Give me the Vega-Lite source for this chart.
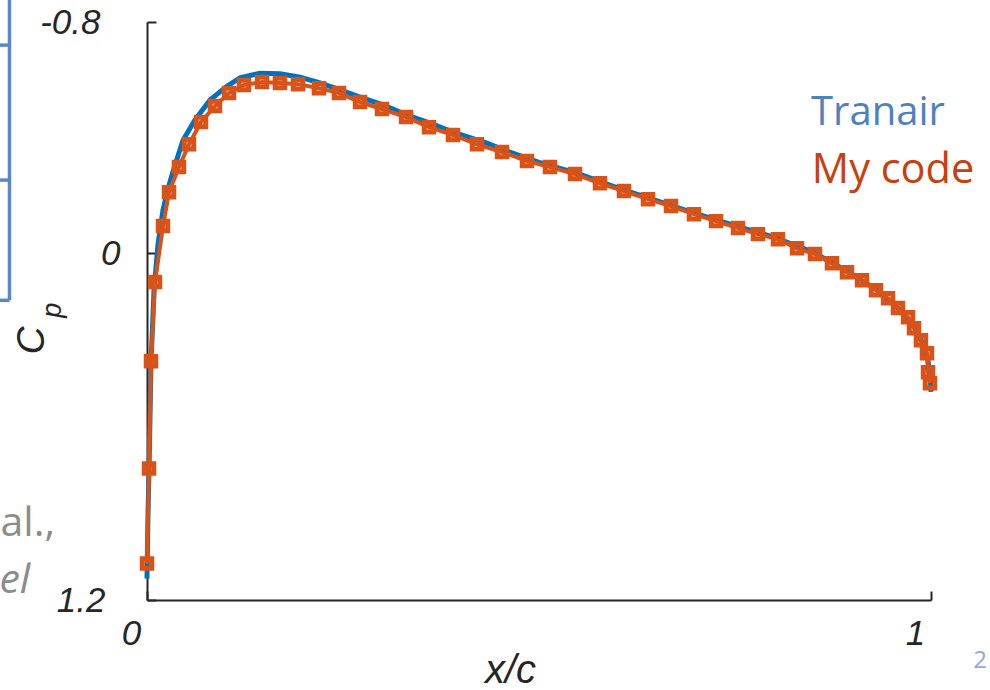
{
  "$schema": "https://vega.github.io/schema/vega-lite/v6.json",
  "width": 784,
  "height": 578,
  "autosize": {"type": "none"},
  "padding": {"left": 147, "top": 22, "right": 59, "bottom": 90},
  "background": "white",
  "config": {"view": {"stroke": null}, "axis": {"grid": false}},
  "datasets": {
    "tranair": [
      {"x": 0.0, "y": 1.126}, {"x": 0.0013, "y": 0.9}, {"x": 0.0026, "y": 0.75},
      {"x": 0.0051, "y": 0.38}, {"x": 0.0089, "y": 0.13}, {"x": 0.014, "y": -0.03},
      {"x": 0.0204, "y": -0.15}, {"x": 0.027, "y": -0.225}, {"x": 0.0332, "y": -0.283},
      {"x": 0.0459, "y": -0.391}, {"x": 0.0612, "y": -0.461}, {"x": 0.0804, "y": -0.53},
      {"x": 0.102, "y": -0.578}, {"x": 0.1186, "y": -0.607}, {"x": 0.1441, "y": -0.623},
      {"x": 0.1696, "y": -0.621}, {"x": 0.1952, "y": -0.609}, {"x": 0.2207, "y": -0.589},
      {"x": 0.2462, "y": -0.565}, {"x": 0.2717, "y": -0.54}, {"x": 0.301, "y": -0.513},
      {"x": 0.3316, "y": -0.478}, {"x": 0.361, "y": -0.45}, {"x": 0.3903, "y": -0.419},
      {"x": 0.4337, "y": -0.381}, {"x": 0.46, "y": -0.352}, {"x": 0.5, "y": -0.314},
      {"x": 0.55, "y": -0.275}, {"x": 0.6, "y": -0.226}, {"x": 0.65, "y": -0.182},
      {"x": 0.7, "y": -0.137}, {"x": 0.75, "y": -0.095}, {"x": 0.8, "y": -0.055},
      {"x": 0.85, "y": -0.003}, {"x": 0.89, "y": 0.058}, {"x": 0.93, "y": 0.125},
      {"x": 0.96, "y": 0.195}, {"x": 0.98, "y": 0.262}, {"x": 0.99, "y": 0.315},
      {"x": 0.996, "y": 0.37}, {"x": 0.999, "y": 0.43}, {"x": 1.0, "y": 0.48}
    ],
    "mycode": [
      {"x": 0.0, "y": 1.074}, {"x": 0.0026, "y": 0.745}, {"x": 0.0051, "y": 0.374},
      {"x": 0.0102, "y": 0.1}, {"x": 0.0204, "y": -0.094}, {"x": 0.0281, "y": -0.211},
      {"x": 0.0408, "y": -0.298}, {"x": 0.0536, "y": -0.377}, {"x": 0.0689, "y": -0.454},
      {"x": 0.0867, "y": -0.509}, {"x": 0.1046, "y": -0.554}, {"x": 0.1237, "y": -0.582},
      {"x": 0.1467, "y": -0.592}, {"x": 0.1696, "y": -0.589}, {"x": 0.1926, "y": -0.585},
      {"x": 0.2194, "y": -0.571}, {"x": 0.2449, "y": -0.554}, {"x": 0.2717, "y": -0.523},
      {"x": 0.2997, "y": -0.499}, {"x": 0.3304, "y": -0.471}, {"x": 0.3597, "y": -0.436},
      {"x": 0.3903, "y": -0.409}, {"x": 0.4209, "y": -0.377}, {"x": 0.4528, "y": -0.35},
      {"x": 0.4847, "y": -0.319}, {"x": 0.514, "y": -0.298}, {"x": 0.5459, "y": -0.274},
      {"x": 0.5778, "y": -0.242}, {"x": 0.6084, "y": -0.215}, {"x": 0.639, "y": -0.187},
      {"x": 0.6684, "y": -0.163}, {"x": 0.6977, "y": -0.135}, {"x": 0.7258, "y": -0.111},
      {"x": 0.7538, "y": -0.087}, {"x": 0.7793, "y": -0.066}, {"x": 0.8048, "y": -0.048},
      {"x": 0.8291, "y": -0.017}, {"x": 0.852, "y": 0.003}, {"x": 0.8737, "y": 0.035},
      {"x": 0.8929, "y": 0.066}, {"x": 0.912, "y": 0.094}, {"x": 0.9298, "y": 0.128},
      {"x": 0.9452, "y": 0.156}, {"x": 0.9579, "y": 0.19}, {"x": 0.9707, "y": 0.222},
      {"x": 0.9783, "y": 0.26}, {"x": 0.9872, "y": 0.301}, {"x": 0.9949, "y": 0.346},
      {"x": 0.9962, "y": 0.412}, {"x": 0.9987, "y": 0.45}
    ]
  },
  "encoding": {
    "x": {
      "field": "x",
      "type": "quantitative",
      "scale": {"domain": [0, 1], "nice": false, "zero": false},
      "axis": {
        "values": [0, 1],
        "title": "x/c",
        "titleFont": "Liberation Sans",
        "titleFontStyle": "italic",
        "titleFontWeight": "normal",
        "titleFontSize": 40,
        "titleColor": "#262626",
        "titleX": 363,
        "titleY": 82,
        "titleAlign": "center",
        "titleBaseline": "alphabetic",
        "domainColor": "#262626",
        "domainWidth": 2,
        "tickColor": "#262626",
        "tickWidth": 2,
        "tickSize": -9,
        "labelFont": "Liberation Sans",
        "labelFontStyle": "italic",
        "labelFontSize": 35,
        "labelColor": "#262626",
        "labelPadding": 25,
        "labelOffset": -16,
        "labelBaseline": "top",
        "labelAlign": "center",
        "labelFlush": false,
        "labelOverlap": false,
        "labelExpr": "format(datum.value, 'd')"
      }
    },
    "y": {
      "field": "y",
      "type": "quantitative",
      "scale": {"domain": [-0.8, 1.2], "nice": false, "zero": false, "reverse": true},
      "axis": {
        "values": [-0.8, 0, 1.2],
        "title": "C",
        "titleFont": "Liberation Sans",
        "titleFontStyle": "italic",
        "titleFontWeight": "normal",
        "titleFontSize": 39,
        "titleColor": "#262626",
        "titleAngle": -90,
        "titleX": -104,
        "titleY": 318,
        "titleAlign": "center",
        "titleBaseline": "alphabetic",
        "domainColor": "#262626",
        "domainWidth": 2,
        "tickColor": "#262626",
        "tickWidth": 2,
        "tickSize": -9,
        "labelFont": "Liberation Sans",
        "labelFontStyle": "italic",
        "labelFontSize": 35,
        "labelColor": "#262626",
        "labelAlign": "right",
        "labelBaseline": "middle",
        "labelFlush": false,
        "labelOverlap": false,
        "labelPadding": {"condition": [{"test": "datum.value == 0", "value": 36}, {"test": "datum.value > 1", "value": 51}], "value": 56},
        "labelExpr": "datum.value < 0 ? '-' + format(-datum.value, '.1f') : datum.value == 0 ? '0' : format(datum.value, '.1f')"
      }
    }
  },
  "layer": [
    {
      "data": {"name": "tranair"},
      "mark": {"type": "line", "color": "#0072BD", "strokeWidth": 5, "clip": false}
    },
    {
      "data": {"name": "mycode"},
      "mark": {"type": "line", "color": "#D95319", "strokeWidth": 4}
    },
    {
      "data": {"name": "mycode"},
      "mark": {"type": "point", "shape": "square", "filled": false, "size": 90, "strokeWidth": 5, "color": "#D95319", "opacity": 1}
    },
    {
      "data": {"values": [{"x": 0.847, "y": -0.443, "label": "Tranair"}]},
      "mark": {"type": "text", "font": "Open Sans", "fontSize": 40, "color": "#4F81BD", "align": "left", "baseline": "alphabetic"},
      "encoding": {"text": {"field": "label"}}
    },
    {
      "data": {"values": [{"x": 0.848, "y": -0.242, "label": "My code"}]},
      "mark": {"type": "text", "font": "Open Sans", "fontSize": 41.5, "color": "#C9400F", "align": "left", "baseline": "alphabetic"},
      "encoding": {"text": {"field": "label"}}
    },
    {
      "data": {"values": [{"x": -0.1097, "y": 0.197, "label": "p"}]},
      "mark": {"type": "text", "font": "Liberation Sans", "fontStyle": "italic", "fontSize": 27, "color": "#262626", "align": "center", "baseline": "alphabetic", "angle": -90},
      "encoding": {"text": {"field": "label"}}
    },
    {
      "data": {"values": [
        {"x": -0.1754, "x2": -0.1754, "y": -0.9, "y2": 0.163},
        {"x": -0.2, "x2": -0.1754, "y": -0.72, "y2": -0.72},
        {"x": -0.2, "x2": -0.1754, "y": -0.253, "y2": -0.253},
        {"x": -0.2, "x2": -0.1754, "y": 0.163, "y2": 0.163}
      ]},
      "mark": {"type": "rule", "color": "#5B87C6", "strokeWidth": 3.5},
      "encoding": {"x2": {"field": "x2"}, "y2": {"field": "y2"}}
    },
    {
      "data": {"values": [{"x": -0.1173, "y": 0.977, "label": "al.,"}]},
      "mark": {"type": "text", "font": "Open Sans", "fontSize": 41, "color": "#8C8C8C", "align": "right", "baseline": "alphabetic"},
      "encoding": {"text": {"field": "label"}}
    },
    {
      "data": {"values": [{"x": -0.149, "y": 1.177, "label": "el"}]},
      "mark": {"type": "text", "font": "Open Sans", "fontStyle": "italic", "fontSize": 41, "color": "#8C8C8C", "align": "right", "baseline": "alphabetic"},
      "encoding": {"text": {"field": "label"}}
    },
    {
      "data": {"values": [{"x": 1.0625, "y": 1.434, "label": "2"}]},
      "mark": {"type": "text", "font": "Open Sans", "fontSize": 24, "color": "#8FAADC", "align": "center", "baseline": "alphabetic"},
      "encoding": {"text": {"field": "label"}}
    }
  ]
}
